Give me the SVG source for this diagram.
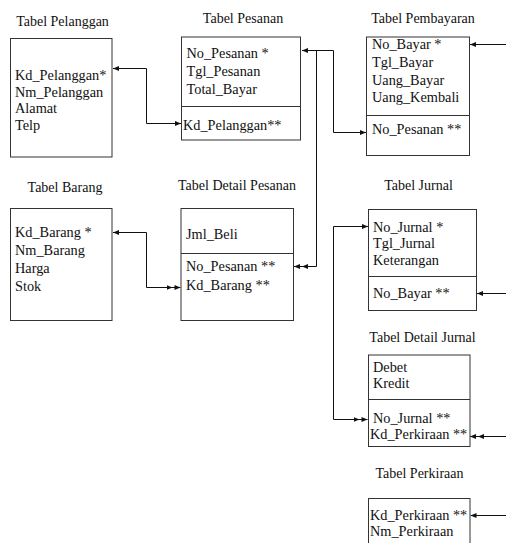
<svg xmlns="http://www.w3.org/2000/svg" width="506" height="543" viewBox="0 0 506 543">
<style>
.box{fill:#fff;stroke:#333;stroke-width:1}
.div{stroke:#333;stroke-width:1}
.t{font-family:"Liberation Serif","Times New Roman",serif;font-size:14px;fill:#111;text-anchor:middle}
.f{font-family:"Liberation Serif","Times New Roman",serif;font-size:14.3px;fill:#111}
.c{fill:none;stroke:#111;stroke-width:1}
.s{marker-end:url(#a1)}
.d{marker-end:url(#a2)}
.b{marker-start:url(#a1)}
</style>
<defs>
<marker id="a1" viewBox="0 0 6 6" refX="6" refY="3" markerWidth="6" markerHeight="6" markerUnits="userSpaceOnUse" orient="auto-start-reverse"><path d="M0,0.5 L6,3 L0,5.5 z" fill="#111"/></marker>
<marker id="a2" viewBox="0 0 14 6" refX="14" refY="3" markerWidth="14" markerHeight="6" markerUnits="userSpaceOnUse" orient="auto"><path d="M0,0.5 L6,3 L0,5.5 z M8,0.5 L14,3 L8,5.5 z" fill="#111"/></marker>
</defs>
<rect width="506" height="543" fill="#fff"/>

<g id="connectors">
<path class="c s b" d="M113,68.5 H146.5 V123.5 H181"/>
<path class="c s b" d="M302,50.5 H333.5 V132.5 H366"/>
<path class="c d" d="M316.5,50.5 V266.5 H294"/>
<path class="c d b" d="M113,232.5 H146.5 V287.5 H180.5"/>
<path class="c d b" d="M368,226.5 H333.5 V419.5 H367.5"/>
<path class="c s" d="M506,44.5 H470"/>
<path class="c s" d="M506,293.5 H477"/>
<path class="c d" d="M506,436.5 H470"/>
<path class="c s" d="M506,515.5 H470.5"/>
</g>

<g id="pelanggan">
<text class="t" x="62.5" y="26">Tabel Pelanggan</text>
<rect class="box" x="10.5" y="38.5" width="101.5" height="118.5"/>
<text class="f" x="15" y="80">Kd_Pelanggan*</text>
<text class="f" x="15" y="96.5">Nm_Pelanggan</text>
<text class="f" x="15" y="113">Alamat</text>
<text class="f" x="15" y="129.5">Telp</text>
</g>

<g id="pesanan">
<text class="t" x="243" y="23">Tabel Pesanan</text>
<rect class="box" x="181.5" y="37" width="119" height="103"/>
<line class="div" x1="181.5" y1="106.5" x2="300.5" y2="106.5"/>
<text class="f" x="186.5" y="58">No_Pesanan *</text>
<text class="f" x="186.5" y="76">Tgl_Pesanan</text>
<text class="f" x="186.5" y="94">Total_Bayar</text>
<text class="f" x="183" y="129.5">Kd_Pelanggan**</text>
</g>

<g id="pembayaran">
<text class="t" x="423" y="23">Tabel Pembayaran</text>
<rect class="box" x="366.5" y="37" width="103" height="118.5"/>
<line class="div" x1="366.5" y1="115.5" x2="469.5" y2="115.5"/>
<text class="f" x="372" y="48.5">No_Bayar *</text>
<text class="f" x="372" y="66.5">Tgl_Bayar</text>
<text class="f" x="372" y="84.5">Uang_Bayar</text>
<text class="f" x="372" y="102">Uang_Kembali</text>
<text class="f" x="372" y="133.5">No_Pesanan **</text>
</g>

<g id="barang">
<text class="t" x="65" y="191.5">Tabel Barang</text>
<rect class="box" x="10.5" y="208.5" width="101.5" height="112"/>
<text class="f" x="15" y="236.5">Kd_Barang *</text>
<text class="f" x="15" y="254.5">Nm_Barang</text>
<text class="f" x="15" y="272.5">Harga</text>
<text class="f" x="15" y="290.5">Stok</text>
</g>

<g id="detail-pesanan">
<text class="t" x="237" y="189.5">Tabel Detail Pesanan</text>
<rect class="box" x="181" y="208.5" width="112.5" height="112"/>
<line class="div" x1="181" y1="253.5" x2="293.5" y2="253.5"/>
<text class="f" x="186" y="238.5">Jml_Beli</text>
<text class="f" x="186" y="271">No_Pesanan **</text>
<text class="f" x="186" y="290">Kd_Barang **</text>
</g>

<g id="jurnal">
<text class="t" x="418.5" y="190">Tabel Jurnal</text>
<rect class="box" x="368.5" y="209.5" width="108" height="101"/>
<line class="div" x1="368.5" y1="276.5" x2="476.5" y2="276.5"/>
<text class="f" x="373" y="231.5">No_Jurnal *</text>
<text class="f" x="373" y="248">Tgl_Jurnal</text>
<text class="f" x="373" y="264.5">Keterangan</text>
<text class="f" x="373" y="298">No_Bayar **</text>
</g>

<g id="detail-jurnal">
<text class="t" x="422.5" y="341.5">Tabel Detail Jurnal</text>
<rect class="box" x="368.5" y="355" width="101.5" height="91.5"/>
<line class="div" x1="368.5" y1="399.5" x2="470" y2="399.5"/>
<text class="f" x="373" y="371.5">Debet</text>
<text class="f" x="373" y="387.5">Kredit</text>
<text class="f" x="373" y="422.5">No_Jurnal **</text>
<text class="f" x="370" y="438.5">Kd_Perkiraan **</text>
</g>

<g id="perkiraan">
<text class="t" x="419.5" y="477.5">Tabel Perkiraan</text>
<rect class="box" x="368.5" y="498.5" width="101.5" height="70"/>
<text class="f" x="370" y="519.5">Kd_Perkiraan **</text>
<text class="f" x="370" y="536">Nm_Perkiraan</text>
</g>
</svg>
